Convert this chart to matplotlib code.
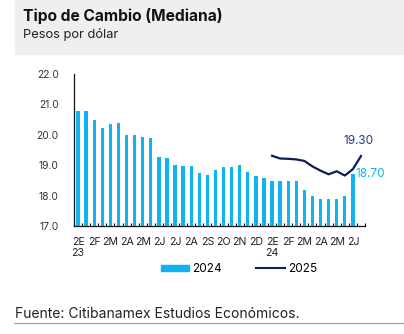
import matplotlib.pyplot as plt
from matplotlib.patches import Rectangle
from matplotlib.lines import Line2D

plt.rcParams['font.family'] = ['Inter', 'DejaVu Sans']

# Encuesta Citibanamex, quincenal
bars_2024 = [20.79, 20.79, 20.49, 20.23, 20.37, 20.40, 19.98, 19.98, 19.92, 19.88,
             19.26, 19.24, 19.01, 18.98, 18.98, 18.75, 18.69, 18.84, 18.93, 18.93,
             19.00, 18.79, 18.64, 18.59, 18.49, 18.49, 18.49, 18.49, 18.18, 17.99,
             17.89, 17.89, 17.89, 17.99, 18.70]
line_2025 = [19.31, 19.22, 19.21, 19.19, 19.14, 18.96, 18.82, 18.70, 18.80, 18.66,
             18.87, 19.30]
line_start = 24
tick_labels = ["2E\n23", "2F", "2M", "2A", "2M", "2J", "2J", "2A", "2S", "2O", "2N",
               "2D", "2E\n24", "2F", "2M", "2A", "2M", "2J"]

BAR_COLOR = '#0fb4ee'
LINE_COLOR = '#0c1c5e'

W, H = 404, 334
fig = plt.figure(figsize=(W / 100, H / 100), dpi=100)


def fx(px):
    return px / W


def fy(py):
    return 1 - py / H


# header
fig.patches.append(Rectangle((fx(15), fy(54)), 1 - fx(15), 54 / H,
                             transform=fig.transFigure, color='#efefef', zorder=0))
fig.text(fx(23), fy(21), 'Tipo de Cambio (Mediana)', fontsize=11.2,
         fontweight='bold', color='#111111', va='baseline')
fig.text(fx(23), fy(38), 'Pesos por dólar', fontsize=9.3, color='#222222',
         va='baseline')

ax = fig.add_axes([fx(74), fy(226), fx(365) - fx(74), (226 - 74) / H])

x_bars = list(range(len(bars_2024)))
ax.bar(x_bars, [v - 17 for v in bars_2024], bottom=17, width=0.42,
       color=BAR_COLOR, label='2024')
x_line = list(range(line_start, line_start + len(line_2025)))
ax.plot(x_line, line_2025, color=LINE_COLOR, lw=1.6, label='2025')

ax.text(x_bars[-1] + 0.3, bars_2024[-1], f'{bars_2024[-1]:.2f}', color=BAR_COLOR,
        fontsize=8.5, va='center', ha='left')
ax.text(x_line[-1] - 0.3, line_2025[-1] + 0.3, f'{line_2025[-1]:.2f}', color='#2a3a78',
        fontsize=8.5, va='bottom', ha='center')

ax.set_ylim(17, 22)
ax.set_xlim(-0.5, 35.5)
ax.set_yticks([17, 18, 19, 20, 21, 22])
ax.set_yticklabels([f'{v:.1f}' for v in [17, 18, 19, 20, 21, 22]])
ax.set_xticks(range(0, 35, 2))
ax.set_xticklabels(tick_labels, linespacing=1.1)
ax.set_xticks([i - 0.5 for i in range(37)], minor=True)
ax.tick_params(axis='x', which='major', length=0, pad=8, labelsize=7.6,
               labelcolor='#222222')
ax.tick_params(axis='x', which='minor', length=2.5, direction='in', width=0.8)
ax.tick_params(axis='y', length=0, pad=11, labelsize=7.4, labelcolor='#333333')

for s in ['top', 'right']:
    ax.spines[s].set_visible(False)
for s in ['left', 'bottom']:
    ax.spines[s].set_linewidth(0.9)
    ax.spines[s].set_color('#111111')

handles = [Rectangle((0, 0), 1, 1, color=BAR_COLOR),
           Line2D([0], [0], color=LINE_COLOR, lw=1.5)]
fig.legend(handles, ['2024', '2025'], loc='center', ncol=2,
           bbox_to_anchor=(fx(239), fy(269)), frameon=False, fontsize=8.5,
           handlelength=2.4, handleheight=0.45, handletextpad=0.3,
           columnspacing=2.9)

# footer
fig.text(fx(15), fy(318), 'Fuente: Citibanamex Estudios Económicos.', fontsize=10,
         color='#222222', va='baseline')
fig.add_artist(Line2D([fx(14), 1], [fy(323), fy(323)], color='#8fa3c6', lw=0.9,
                      transform=fig.transFigure))

fig.savefig('out.png', dpi=100)
